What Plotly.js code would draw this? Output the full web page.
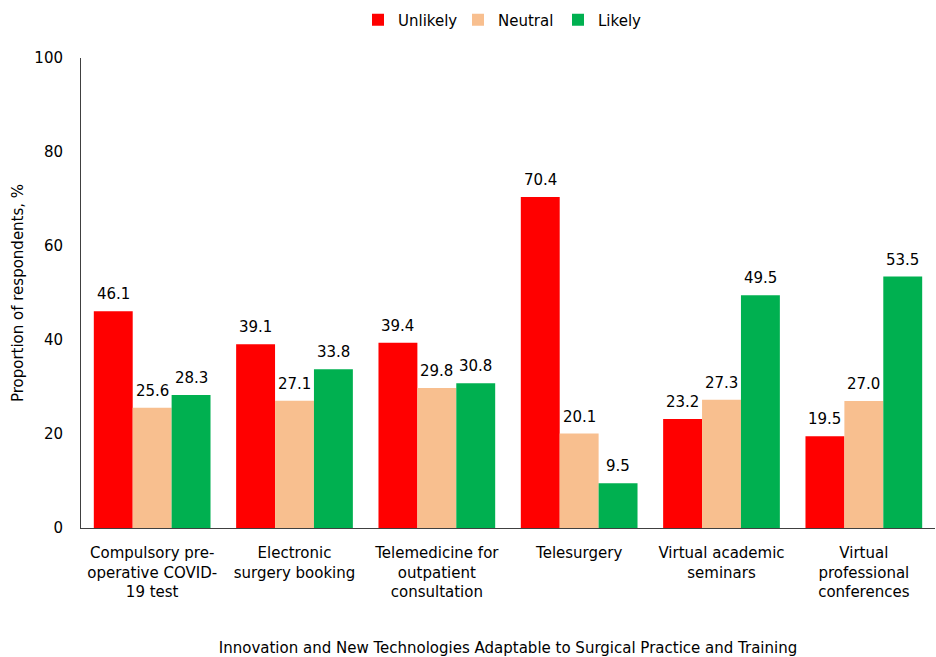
<!DOCTYPE html>
<html><head><meta charset="utf-8">
<script src="https://cdn.plot.ly/plotly-3.0.1.min.js"></script>
<style>html,body{margin:0;padding:0;background:#fff}#chart{width:936px;height:657px}</style>
</head><body><div id="chart"></div>
<script>
const categories = ["Compulsory pre-<br>operative COVID-<br>19 test","Electronic<br>surgery booking","Telemedicine for<br>outpatient<br>consultation","Telesurgery","Virtual academic<br>seminars","Virtual<br>professional<br>conferences"];
const unlikely = [46.1, 39.1, 39.4, 70.4, 23.2, 19.5];
const neutral = [25.6, 27.1, 29.8, 20.1, 27.3, 27.0];
const likely = [28.3, 33.8, 30.8, 9.5, 49.5, 53.5];
const seriesNames = ["Unlikely","Neutral","Likely"];
const colors = ["#FF0000","#F8BF8F","#00B050"];
const font = {family: "DejaVu Sans, Verdana, sans-serif", size: 15, color: "#000"};
const series = [unlikely, neutral, likely];
const bargap = 0.18;
const barW = (1 - bargap) / series.length;
const traces = series.map((v, i) => ({
  type: "bar", x: categories, y: v, name: seriesNames[i],
  marker: {color: colors[i]}
}));
const annotations = [];
series.forEach((v, i) => v.forEach((d, j) => annotations.push({
  x: j + (i - (series.length - 1) / 2) * barW, y: d, xref: "x", yref: "y",
  text: d.toFixed(1), showarrow: false, yanchor: "bottom", yshift: 6, font: font
})));
const layout = {
  width: 936, height: 657,
  margin: {l: 81, r: 1, t: 58, b: 129},
  font: font,
  paper_bgcolor: "#fff", plot_bgcolor: "#fff",
  barmode: "group", bargap: bargap, bargroupgap: 0,
  showlegend: true,
  legend: {orientation: "h", x: 0.5, xanchor: "center", y: 1.081, yanchor: "middle", font: font, itemwidth: 30, entrywidth: 55},
  annotations: annotations,
  xaxis: {
    showline: true, linecolor: "#404040", linewidth: 1, ticks: "", showgrid: false,
    tickfont: font, ticklabelstandoff: 11,
    title: {text: "Innovation and New Technologies Adaptable to Surgical Practice and Training", font: font, standoff: 42}
  },
  yaxis: {
    range: [0, 100], dtick: 20, showline: true, linecolor: "#404040", linewidth: 1,
    ticks: "", showgrid: false, zeroline: false, tickfont: font, ticklabelstandoff: 14,
    title: {text: "Proportion of respondents, %", font: font, standoff: 7}
  }
};
Plotly.newPlot("chart", traces, layout, {displayModeBar: false});
</script></body></html>
